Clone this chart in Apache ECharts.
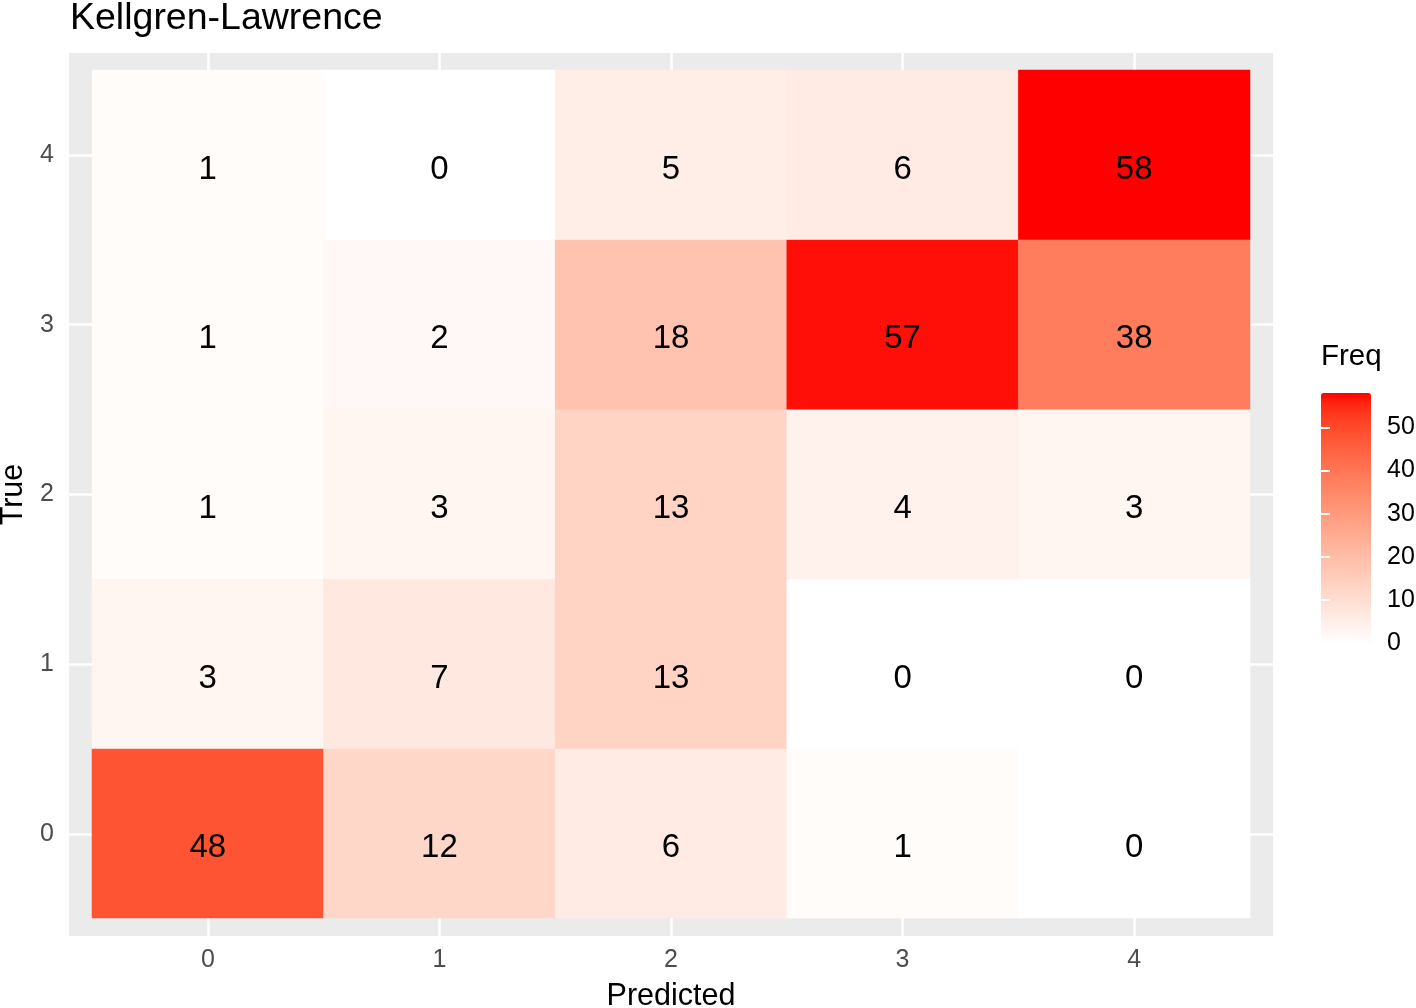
<!DOCTYPE html>
<html>
<head>
<meta charset="utf-8">
<script src="https://cdn.jsdelivr.net/npm/echarts@6/dist/echarts.min.js"></script>
<style>
  html, body { margin: 0; padding: 0; background: #fff; }
  #main { width: 1416px; height: 1008px; }
</style>
</head>
<body>
<div id="main"></div>
<script>
  // categories
  var predicted = ['0', '1', '2', '3', '4'];
  var trueClass = ['0', '1', '2', '3', '4'];
  // counts, one array per true class, columns = predicted 0..4
  var true0 = [48, 12, 6, 1, 0];
  var true1 = [3, 7, 13, 0, 0];
  var true2 = [1, 3, 13, 4, 3];
  var true3 = [1, 2, 18, 57, 38];
  var true4 = [1, 0, 5, 6, 58];
  // tick labels
  var axisTicks = [0, 1, 2, 3, 4];
  var legendTicks = [0, 10, 20, 30, 40, 50];
  var freqMax = 58;

  var FONT = 'Liberation Sans, Arial, sans-serif';

  // white -> red gradient interpolated in Lab (like ggplot's scale_fill_gradient)
  function lab2rgb(L, a, b) {
    var fy = (L + 16) / 116, fx = fy + a / 500, fz = fy - b / 200;
    function f(t) { return t > 6 / 29 ? t * t * t : 3 * (6 / 29) * (6 / 29) * (t - 4 / 29); }
    var X = 0.95047 * f(fx), Y = f(fy), Z = 1.08883 * f(fz);
    var r = 3.2406 * X - 1.5372 * Y - 0.4986 * Z;
    var g = -0.9689 * X + 1.8758 * Y + 0.0415 * Z;
    var bl = 0.0557 * X - 0.2040 * Y + 1.0570 * Z;
    function gam(c) {
      c = Math.max(0, Math.min(1, c));
      return Math.round(255 * (c <= 0.0031308 ? 12.92 * c : 1.055 * Math.pow(c, 1 / 2.4) - 0.055));
    }
    return 'rgb(' + gam(r) + ',' + gam(g) + ',' + gam(bl) + ')';
  }
  var colorStops = [];
  for (var i = 0; i <= 24; i++) {
    var t = i / 24;
    colorStops.push(lab2rgb(100 - 46.7592 * t, 80.0925 * t, 67.2032 * t));
  }

  var rows = [true0, true1, true2, true3, true4];
  var cells = [];
  rows.forEach(function (row, yi) {
    row.forEach(function (v, xi) { cells.push([xi, yi, v]); });
  });

  var myChart = echarts.init(document.getElementById('main'));

  var option = {
    backgroundColor: '#fff',
    animation: false,
    title: [
      {
        text: 'Kellgren-Lawrence',
        left: 70, top: 0, padding: 0,
        textStyle: { fontFamily: FONT, fontSize: 37.5, fontWeight: 'normal', color: '#000' }
      },
      {
        text: 'Freq',
        left: 1321, top: 342, padding: 0,
        textStyle: { fontFamily: FONT, fontSize: 29.5, fontWeight: 'normal', color: '#000' }
      }
    ],
    grid: [
      // grey panel
      { left: 69, top: 53, width: 1204, height: 883, show: true, backgroundColor: '#EBEBEB', borderWidth: 0, outerBoundsMode: 'none' },
      // tile area
      { left: 92, top: 70, width: 1158, height: 848, outerBoundsMode: 'none' },
      // colour bar
      { left: 1321, top: 393, width: 50, height: 250, outerBoundsMode: 'none' }
    ],
    xAxis: [
      {
        gridIndex: 0, type: 'value', min: -0.6, max: 4.6,
        name: 'Predicted', nameLocation: 'middle', nameGap: 45,
        nameTextStyle: { fontFamily: FONT, fontSize: 30.5, color: '#000' },
        axisLine: { show: false },
        axisTick: { show: true, customValues: axisTicks, length: 8, lineStyle: { color: '#333', width: 2.5 } },
        axisLabel: {
          customValues: axisTicks, margin: 12,
          fontFamily: FONT, fontSize: 25, color: '#4D4D4D',
          formatter: function (v) { return predicted[v]; }
        },
        splitLine: { show: true, lineStyle: { color: '#fff', width: 2.6 } }
      },
      { gridIndex: 1, type: 'category', data: predicted, show: false },
      { gridIndex: 2, type: 'value', show: false }
    ],
    yAxis: [
      {
        gridIndex: 0, type: 'value', min: -0.6, max: 4.6,
        name: 'True', nameLocation: 'middle', nameGap: 35,
        nameTextStyle: { fontFamily: FONT, fontSize: 30.5, color: '#000' },
        axisLine: { show: false },
        axisTick: { show: true, customValues: axisTicks, length: 8, lineStyle: { color: '#333', width: 2.5 } },
        axisLabel: {
          customValues: axisTicks, margin: 15,
          fontFamily: FONT, fontSize: 25, color: '#4D4D4D',
          formatter: function (v) { return trueClass[v]; }
        },
        splitLine: { show: true, lineStyle: { color: '#fff', width: 2.6 } }
      },
      { gridIndex: 1, type: 'category', data: trueClass, show: false },
      {
        gridIndex: 2, type: 'value', min: 0, max: freqMax, position: 'right', z: 10,
        axisLine: { show: false },
        axisTick: { show: true, inside: true, customValues: legendTicks, length: 9, lineStyle: { color: '#fff', width: 2 } },
        axisLabel: { customValues: legendTicks, margin: 16, fontFamily: FONT, fontSize: 25, color: '#000' },
        splitLine: { show: false }
      },
      {
        gridIndex: 2, type: 'value', min: 0, max: freqMax, position: 'left', z: 10,
        axisLine: { show: false },
        axisTick: { show: true, inside: true, customValues: legendTicks, length: 9, lineStyle: { color: '#fff', width: 2 } },
        axisLabel: { show: false },
        splitLine: { show: false }
      }
    ],
    visualMap: {
      type: 'continuous',
      min: 0, max: freqMax,
      seriesIndex: 0,
      dimension: 2,
      calculable: false,
      hoverLink: false,
      left: 1321, top: 393,
      itemWidth: 50, itemHeight: 250,
      padding: 0,
      text: null,
      showLabel: false,
      z: 1,
      inRange: { color: colorStops }
    },
    series: [
      {
        type: 'heatmap',
        xAxisIndex: 1, yAxisIndex: 1,
        data: cells,
        label: {
          show: true, fontFamily: FONT, fontSize: 33, color: '#000',
          offset: [0, 15],
          formatter: function (p) { return p.value[2]; }
        },
        itemStyle: { borderWidth: 0 },
        emphasis: { disabled: true }
      }
    ]
  };

  myChart.setOption(option);
</script>
</body>
</html>
